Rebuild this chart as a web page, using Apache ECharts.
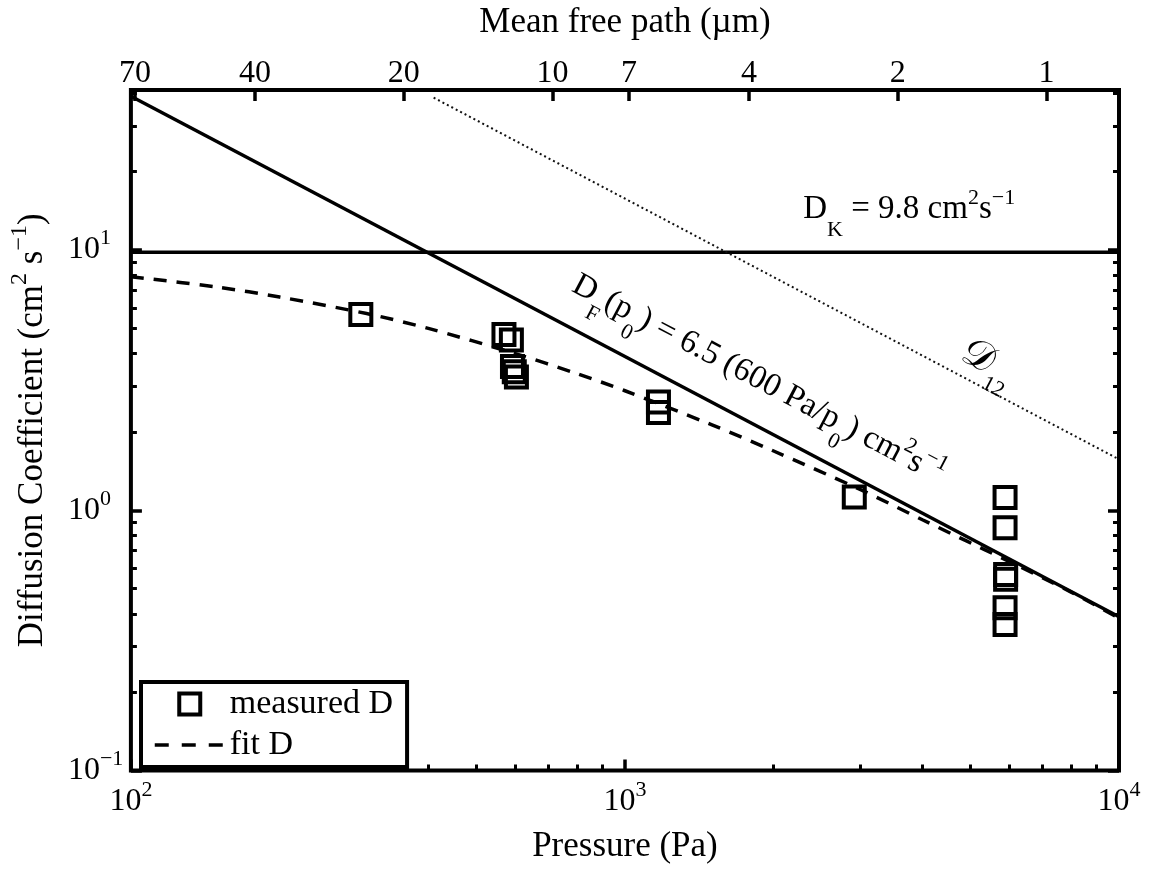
<!DOCTYPE html>
<html>
<head>
<meta charset="utf-8">
<script src="https://cdn.jsdelivr.net/npm/echarts@6/dist/echarts.min.js"></script>
<style>
  html, body { margin: 0; padding: 0; background: #fff; }
  #chart { width: 1151px; height: 869px; }
</style>
</head>
<body>
<div id="chart"></div>
<script>
// Measured diffusion coefficients: pressure (Pa) and D (cm^2/s)
const measuredP = [292, 569, 589, 592, 597, 603, 1169, 1169, 2912, 5880, 5880, 5895, 5895, 5880, 5880];
const measuredD = [5.65, 4.74, 4.51, 3.57, 3.41, 3.25, 2.61, 2.375, 1.126, 1.12, 0.857, 0.567, 0.544, 0.422, 0.364];

// Fitted diffusion coefficient
const fitP = [100, 150, 200, 300, 400, 600, 800, 1000, 1500, 2000, 3000, 4000, 6000, 8000, 10000];
const fitD = [7.9, 7.2, 6.6, 5.7, 5.0, 4.0, 3.35, 2.88, 2.13, 1.69, 1.2, 0.92, 0.635, 0.485, 0.385];

// Knudsen diffusion coefficient D_K = 9.8 cm^2/s
const knudsenP = [100, 10000];
const knudsenD = [9.8, 9.8];

// D_F(p0) = 6.5 (600 Pa / p0) cm^2/s
const dfP = [100, 10000];
const dfD = [39, 0.39];

// Binary diffusion coefficient D12
const d12P = [410, 10000];
const d12D = [38.5, 1.57];

// Mean free path axis (µm); lambda * p is constant
const mfpValues = [70, 40, 20, 10, 7, 4, 2, 1];
const mfpLabels = ['70', '40', '20', '10', '7', '4', '2', '1'];
const mfpTimesPressure = 7135;

// Minor tick positions on the log axes
const xMinor = [200, 300, 400, 500, 600, 700, 800, 900, 2000, 3000, 4000, 5000, 6000, 7000, 8000, 9000];
const yMinor = [0.2, 0.3, 0.4, 0.5, 0.6, 0.7, 0.8, 0.9, 2, 3, 4, 5, 6, 7, 8, 9, 20, 30, 40];

const X_MIN = 100, X_MAX = 10000, Y_MIN = 0.1, Y_MAX = 41.2;

const FONT = "'Liberation Serif', 'Times New Roman', serif";
const BLACK = '#000';
const zip = (xs, ys) => xs.map((x, i) => [x, ys[i]]);

const base = { fontFamily: FONT, fontSize: 32, lineHeight: 32, color: BLACK };
const sup = { fontFamily: FONT, fontSize: 22, lineHeight: 22, color: BLACK, padding: [0, 0, 23, 0] };

function powerLabel(v) {
  const lg = Math.log10(v);
  const e = Math.round(lg);
  if (Math.abs(lg - e) > 1e-6) return '';
  return '{b|10}{s|' + (e < 0 ? '\u2212' + (-e) : String(e)) + '}';
}

const mfpPos = mfpValues.map(l => Math.log10(mfpTimesPressure / l));
function mfpLabel(v) {
  for (let i = 0; i < mfpPos.length; i++) {
    if (Math.abs(mfpPos[i] - v) < 1e-6) return mfpLabels[i];
  }
  return '';
}

const majorTick = { show: true, inside: true, length: 11, lineStyle: { color: BLACK, width: 3.5 } };
const minorTick = (values) => ({ show: true, inside: true, length: 6, lineStyle: { color: BLACK, width: 3 }, customValues: values });
const noLine = { show: false, onZero: false };

const chart = echarts.init(document.getElementById('chart'), null, { renderer: 'canvas' });

chart.setOption({
  animation: false,
  backgroundColor: '#fff',
  grid: {
    left: 130, right: 32, top: 85, bottom: 91,
    show: true, borderColor: BLACK, borderWidth: 4, backgroundColor: '#fff'
  },
  xAxis: [
    {
      type: 'log', logBase: 10, min: X_MIN, max: X_MAX, position: 'bottom',
      axisLine: noLine, splitLine: { show: false },
      axisTick: majorTick,
      axisLabel: { margin: 15, formatter: powerLabel, rich: { b: base, s: sup } },
      name: 'Pressure (Pa)', nameLocation: 'middle', nameGap: 54,
      nameTextStyle: { fontFamily: FONT, fontSize: 35, lineHeight: 35, color: BLACK }
    },
    {
      type: 'value', min: 2, max: 4, position: 'bottom',
      axisLine: noLine, splitLine: { show: false }, axisLabel: { show: false },
      axisTick: minorTick(xMinor.map(v => Math.log10(v)))
    },
    {
      type: 'value', min: 2, max: 4, position: 'top',
      axisLine: noLine, splitLine: { show: false },
      axisTick: Object.assign({}, majorTick, { customValues: mfpPos }),
      axisLabel: {
        show: true, margin: 0, customValues: mfpPos, formatter: mfpLabel,
        fontFamily: FONT, fontSize: 32, lineHeight: 32, color: BLACK
      },
      name: 'Mean free path (\u00b5m)', nameLocation: 'middle', nameGap: 50,
      nameTextStyle: { fontFamily: FONT, fontSize: 35, lineHeight: 35, color: BLACK }
    }
  ],
  yAxis: [
    {
      type: 'log', logBase: 10, min: Y_MIN, max: Y_MAX, position: 'left',
      axisLine: noLine, splitLine: { show: false },
      axisTick: majorTick,
      axisLabel: { margin: 63, align: 'left', formatter: powerLabel, rich: { b: base, s: sup } },
      name: 'Diffusion Coefficient (cm{s|2} s{s|\u22121})',
      nameLocation: 'middle', nameGap: 78, nameRotate: 90,
      nameTextStyle: {
        fontFamily: FONT, fontSize: 35, lineHeight: 35, color: BLACK,
        rich: { s: { fontFamily: FONT, fontSize: 24, lineHeight: 24, color: BLACK, padding: [0, 0, 25, 0] } }
      }
    },
    {
      type: 'value', min: -1, max: Math.log10(Y_MAX), position: 'left',
      axisLine: noLine, splitLine: { show: false }, axisLabel: { show: false },
      axisTick: minorTick(yMinor.map(v => Math.log10(v)))
    },
    {
      type: 'log', logBase: 10, min: Y_MIN, max: Y_MAX, position: 'right',
      axisLine: noLine, splitLine: { show: false },
      axisTick: majorTick, axisLabel: { show: false }
    },
    {
      type: 'value', min: -1, max: Math.log10(Y_MAX), position: 'right',
      axisLine: noLine, splitLine: { show: false }, axisLabel: { show: false },
      axisTick: minorTick(yMinor.map(v => Math.log10(v)))
    }
  ],
  legend: {
    left: 141, top: 682, orient: 'vertical',
    itemWidth: 70, itemHeight: 21, itemGap: 7, padding: [5, 14, 5, 12],
    borderColor: BLACK, borderWidth: 4, borderRadius: 0, backgroundColor: '#fff',
    selectedMode: false,
    textStyle: { fontFamily: FONT, fontSize: 34, lineHeight: 33, color: BLACK },
    data: [
      {
        name: 'measured D', icon: 'path://M0,0H10V10H0Z',
        itemStyle: { color: 'rgba(0,0,0,0)', borderColor: BLACK, borderWidth: 4, opacity: 1 }
      },
      {
        name: 'fit D',
        itemStyle: { color: 'rgba(0,0,0,0)', borderColor: 'rgba(0,0,0,0)', borderWidth: 0, opacity: 0 },
        lineStyle: { color: BLACK, width: 3.5, type: [14, 13], opacity: 1 }
      }
    ]
  },
  series: [
    {
      name: 'D_K', type: 'line', data: zip(knudsenP, knudsenD),
      xAxisIndex: 0, yAxisIndex: 0, symbol: 'none', silent: true,
      lineStyle: { color: BLACK, width: 3.5 }
    },
    {
      name: 'D_F', type: 'line', data: zip(dfP, dfD),
      xAxisIndex: 0, yAxisIndex: 0, symbol: 'none', silent: true,
      lineStyle: { color: BLACK, width: 3.5 }
    },
    {
      name: 'D12', type: 'line', data: zip(d12P, d12D),
      xAxisIndex: 0, yAxisIndex: 0, symbol: 'none', silent: true,
      lineStyle: { color: '#111', width: 2, type: [2, 3] }
    },
    {
      name: 'fit D', type: 'line', data: zip(fitP, fitD),
      xAxisIndex: 0, yAxisIndex: 0, symbol: 'none', smooth: 0.3, silent: true,
      itemStyle: { color: BLACK },
      lineStyle: { color: BLACK, width: 3.5, type: [13, 10] }
    },
    {
      name: 'measured D', type: 'scatter', data: zip(measuredP, measuredD),
      xAxisIndex: 0, yAxisIndex: 0, symbol: 'rect', symbolSize: 21, z: 5,
      itemStyle: { color: 'rgba(0,0,0,0)', borderColor: BLACK, borderWidth: 4, opacity: 1 }
    }
  ]
});

// Text annotations anchored in data coordinates
const toPx = (p, d) => chart.convertToPixel({ xAxisIndex: 0, yAxisIndex: 0 }, [p, d]);
function lineAngle(xs, ys) {
  const a = toPx(xs[0], ys[0]);
  const b = toPx(xs[xs.length - 1], ys[ys.length - 1]);
  return Math.atan2(b[1] - a[1], b[0] - a[0]);
}

const annBase = { fontFamily: FONT, fontSize: 33, lineHeight: 33, fill: BLACK };
const annSub = { fontFamily: FONT, fontSize: 22, lineHeight: 22, fill: BLACK, padding: [40, 0, 0, 0] };
const annSup = { fontFamily: FONT, fontSize: 22, lineHeight: 22, fill: BLACK, padding: [0, 0, 23, 0] };
const annScript = { fontFamily: FONT, fontSize: 40, lineHeight: 40, fill: BLACK };
const annRich = { b: annBase, sub: annSub, sup: annSup, cal: annScript };

const kPos = toPx(2296, 14.28);
const fPos = toPx(1862, 3.18);
const dPos = toPx(5433, 3.71);

chart.setOption({
  graphic: [
    {
      type: 'text', x: kPos[0], y: kPos[1], z: 10,
      style: {
        text: '{b|D}{sub|K}{b| = 9.8 cm}{sup|2}{b|s}{sup|\u22121}',
        rich: annRich, align: 'left', verticalAlign: 'middle', fill: BLACK
      }
    },
    {
      type: 'text', x: fPos[0], y: fPos[1], z: 10, rotation: -lineAngle(dfP, dfD),
      style: {
        text: '{b|D}{sub|F}{b|(p}{sub|0}{b|) = 6.5 (600 Pa/p}{sub|0}{b|) cm}{sup|2}{b|s}{sup|\u22121}',
        rich: annRich, align: 'center', verticalAlign: 'middle', fill: BLACK
      }
    },
    {
      type: 'text', x: dPos[0], y: dPos[1], z: 10, rotation: -lineAngle(d12P, d12D),
      style: {
        text: '{cal|\ud835\udc9f}{sub|12}',
        rich: annRich, align: 'center', verticalAlign: 'middle', fill: BLACK
      }
    }
  ]
});
</script>
</body>
</html>
